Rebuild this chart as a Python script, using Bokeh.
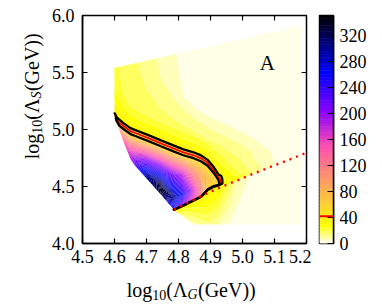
import numpy as np
from bokeh.plotting import figure
from bokeh.models import FixedTicker, PrintfTickFormatter, Label, Span
from bokeh.layouts import row, column
from bokeh.embed import file_html
from bokeh.resources import INLINE

# ---------------- data ----------------
# field sampled on vertical columns (x) with knots (y, value) from the lower
# boundary of the scanned region up to its upper boundary
col_x = [4.600, 4.606, 4.615, 4.630, 4.650, 4.665, 4.700, 4.745, 4.786, 4.815, 4.847, 4.870,
         4.890, 4.910, 4.925, 4.940, 4.960, 4.990, 5.030, 5.070, 5.110, 5.150, 5.184]
col_y = [
    [5.140, 5.142, 5.144, 5.146, 5.148, 5.150, 5.152, 5.154, 5.360, 5.450, 5.480, 5.500, 5.520, 5.540],
    [5.070, 5.071, 5.072, 5.074, 5.076, 5.078, 5.095, 5.112, 5.330, 5.500, 5.515, 5.525, 5.535, 5.544],
    [5.000, 5.002, 5.004, 5.012, 5.024, 5.034, 5.060, 5.086, 5.270, 5.500, 5.515, 5.525, 5.540, 5.550],
    [4.880, 4.882, 4.884, 4.930, 4.970, 5.000, 5.026, 5.052, 5.190, 5.300, 5.450, 5.500, 5.530, 5.559],
    [4.740, 4.742, 4.744, 4.800, 4.880, 4.960, 4.986, 5.012, 5.120, 5.200, 5.450, 5.500, 5.540, 5.572],
    [4.680, 4.682, 4.684, 4.740, 4.830, 4.943, 4.969, 4.995, 5.100, 5.176, 5.450, 5.500, 5.540, 5.581],
    [4.570, 4.572, 4.574, 4.620, 4.750, 4.905, 4.931, 4.957, 5.050, 5.120, 5.350, 5.450, 5.530, 5.604],
    [4.430, 4.432, 4.434, 4.500, 4.680, 4.853, 4.879, 4.905, 5.000, 5.060, 5.180, 5.450, 5.550, 5.632],
    [4.296, 4.2965, 4.297, 4.400, 4.600, 4.806, 4.832, 4.858, 4.950, 5.010, 5.090, 5.270, 5.600, 5.659],
    [4.235, 4.332, 4.338, 4.430, 4.620, 4.774, 4.800, 4.826, 4.917, 4.977, 5.040, 5.180, 5.290, 5.677],
    [4.167, 4.377, 4.385, 4.470, 4.620, 4.748, 4.774, 4.800, 4.880, 4.940, 4.990, 5.100, 5.200, 5.698],
    [4.167, 4.409, 4.417, 4.470, 4.620, 4.721, 4.747, 4.773, 4.850, 4.910, 4.950, 5.060, 5.150, 5.712],
    [4.167, 4.437, 4.467, 4.477, 4.580, 4.684, 4.710, 4.736, 4.820, 4.880, 4.920, 5.020, 5.120, 5.725],
    [4.167, 4.463, 4.497, 4.507, 4.560, 4.619, 4.645, 4.671, 4.760, 4.830, 4.890, 4.990, 5.090, 5.738],
    [4.167, 4.481, 4.508, 4.515, 4.530, 4.555, 4.580, 4.606, 4.720, 4.800, 4.870, 4.970, 5.070, 5.747],
    [4.167, 4.499, 4.507, 4.530, 4.550, 4.570, 4.600, 4.630, 4.670, 4.760, 4.850, 4.950, 5.060, 5.757],
    [4.167, 4.523, 4.531, 4.550, 4.565, 4.580, 4.595, 4.610, 4.630, 4.700, 4.800, 4.920, 5.030, 5.770],
    [4.167, 4.557, 4.565, 4.572, 4.579, 4.586, 4.593, 4.600, 4.607, 4.620, 4.750, 4.880, 4.990, 5.789],
    [4.167, 4.603, 4.611, 4.620, 4.630, 4.640, 4.650, 4.660, 4.670, 4.690, 4.720, 4.800, 4.935, 5.814],
    [4.167, 4.648, 4.656, 4.670, 4.685, 4.700, 4.715, 4.730, 4.745, 4.760, 4.775, 4.800, 4.840, 5.840],
    [4.167, 4.692, 4.700, 4.720, 4.740, 4.760, 4.780, 4.800, 4.820, 4.840, 4.860, 4.880, 4.900, 5.865],
    [4.167, 4.736, 4.744, 4.760, 4.780, 4.800, 4.820, 4.840, 4.860, 4.880, 4.900, 4.920, 4.940, 5.891],
    [4.167, 4.773, 4.781, 4.800, 4.820, 4.840, 4.860, 4.880, 4.900, 4.920, 4.940, 4.960, 4.980, 5.913],
]
col_z = [
    [34, 33.9, 33.8, 33.7, 33.6, 33.5, 33.4, 33.3, 25, 23, 22.8, 22.6, 22.3, 22],
    [62, 62, 62, 58, 54, 50, 42, 35, 25, 21.8, 21.7, 21.6, 21.55, 21.5],
    [105, 105, 105, 90, 70, 50, 42, 35, 25, 20, 19.8, 19.7, 19.6, 19.5],
    [140, 140, 140, 118, 88, 50, 42, 35, 25, 20, 19.2, 19, 18.7, 18.5],
    [185, 185, 185, 165, 112, 50, 42, 35, 25, 20, 18, 17.6, 17.3, 17],
    [225, 225, 225, 200, 135, 50, 42, 35, 25, 20, 17, 16.6, 16.3, 16],
    [295, 295, 295, 282, 185, 50, 42, 35, 25, 20, 15, 14, 13, 12.5],
    [330, 330, 330, 338, 200, 50, 42, 35, 25, 20, 15, 10, 9.5, 9],
    [30, 30, 235, 300, 210, 50, 42, 35, 25, 20, 15, 10, 6, 5.5],
    [12, 30, 205, 250, 165, 50, 42, 35, 25, 20, 15, 10, 5, 3.5],
    [8, 32, 155, 170, 110, 50, 42, 35, 25, 20, 15, 10, 5, 2],
    [12, 33, 112, 118, 82, 50, 42, 35, 25, 20, 15, 10, 5, 2],
    [14, 33, 34, 62, 74, 50, 42, 35, 25, 20, 15, 10, 5, 1.5],
    [12, 32, 33.5, 58, 62, 50, 42, 35, 25, 20, 15, 10, 5, 1.5],
    [10, 30, 33, 52, 53, 50, 42, 35, 25, 20, 15, 10, 5, 1.5],
    [6, 25, 32, 31.5, 31, 30.5, 30, 28, 25, 20, 15, 10, 5, 1.2],
    [4, 18, 31, 30, 29, 28, 27, 26, 25, 20, 15, 10, 5, 1],
    [2, 8, 27, 26, 25, 24, 23, 22, 21, 20, 15, 10, 5, 1],
    [1.5, 4, 15.5, 15, 14.5, 14, 13.5, 13, 12.5, 12, 11, 10, 5, 1],
    [1.5, 2.5, 9, 8.7, 8.4, 8.1, 7.8, 7.5, 7.2, 6.9, 6.6, 6.2, 5, 1],
    [1.2, 1.5, 3.5, 3.4, 3.3, 3.2, 3.1, 3.0, 2.9, 2.8, 2.7, 2.6, 2.5, 1],
    [1, 1.2, 2.5, 2.4, 2.3, 2.2, 2.1, 2.0, 1.9, 1.8, 1.7, 1.6, 1.5, 1],
    [1, 1.1, 2, 1.9, 1.8, 1.7, 1.6, 1.5, 1.4, 1.3, 1.2, 1.1, 1.05, 1],
]

fill_levels = list(range(0, 355, 5))       # 0 ... 350
black_levels = [35, 50]
red_level = 42

dot_x = [4.786, 4.85, 4.90, 4.95, 5.05, 5.20]   # red dotted line
dot_y = [4.296, 4.385, 4.455, 4.515, 4.63, 4.795]

X0, X1 = 4.5, 5.2
Y0, Y1 = 4.0, 6.0
x_ticks = [4.5, 4.6, 4.7, 4.8, 4.9, 5.0, 5.1, 5.2]
y_ticks = [4.0, 4.5, 5.0, 5.5, 6.0]
cb_ticks = [0, 40, 80, 120, 160, 200, 240, 280, 320]
VMIN, VMAX = 0, 350

# ---------------- colormap (reversed gnuplot2) ----------------
def gnuplot2_r(v):
    t = 1 - (v - VMIN) / (VMAX - VMIN)
    r = min(max(t / 0.32 - 0.78125, 0), 1)
    g = min(max(2 * t - 0.84, 0), 1)
    if t < 0.25:
        b = 4 * t
    elif t < 0.92:
        b = -2 * t + 1.84
    else:
        b = t / 0.08 - 11.5
    b = min(max(b, 0), 1)
    return "#%02x%02x%02x" % (round(r * 255), round(g * 255), round(b * 255))

palette = [gnuplot2_r(0.5 * (a + b)) for a, b in zip(fill_levels[:-1], fill_levels[1:])]

nrow = len(col_y[0])
X2 = np.tile(np.array(col_x, dtype=float), (nrow, 1))
Y2 = np.array(col_y, dtype=float).T
Z2 = np.array(col_z, dtype=float).T

FONT = "Liberation Serif"
FW, FH = 230, 228          # frame size in px
TICK = 5                   # inward tick length in px
ROW_H = 278

# ---------------- main figure ----------------
p = figure(width=263, height=ROW_H, x_range=(X0, X1), y_range=(Y0, Y1),
           min_border_left=28, min_border_right=5, min_border_top=15, min_border_bottom=35,
           output_backend="svg", toolbar_location=None)
p.xgrid.visible = False
p.ygrid.visible = False
p.background_fill_color = "white"
p.border_fill_color = "white"
p.outline_line_color = "black"
p.outline_line_width = 1.5

cf = p.contour(X2, Y2, Z2, levels=fill_levels, fill_color=palette, line_color=None)
cf.fill_renderer.glyph.line_color = cf.fill_renderer.glyph.fill_color
cf.fill_renderer.glyph.line_width = 0.6

p.contour(X2, Y2, Z2, levels=[red_level], line_color="red", line_width=1.8, fill_color=None)
p.contour(X2, Y2, Z2, levels=black_levels, line_color="black", line_width=2.3, fill_color=None)

p.line(dot_x, dot_y, line_color="red", line_width=2.4, line_dash="2 5")

# inward ticks on the top and right edges of the frame
dy = TICK * (Y1 - Y0) / FH
dx = TICK * (X1 - X0) / FW
p.segment(x0=x_ticks, y0=[Y1] * len(x_ticks), x1=x_ticks, y1=[Y1 - dy] * len(x_ticks),
          line_color="black", line_width=1.2)
p.segment(x0=[X1] * len(y_ticks), y0=y_ticks, x1=[X1 - dx] * len(y_ticks), y1=y_ticks,
          line_color="black", line_width=1.2)

for ax, ticks in ((p.xaxis[0], x_ticks), (p.yaxis[0], y_ticks)):
    ax.ticker = FixedTicker(ticks=ticks)
    ax.formatter = PrintfTickFormatter(format="%.1f")
    ax.major_tick_in = TICK
    ax.major_tick_out = 0
    ax.minor_tick_line_color = None
    ax.axis_line_width = 1.5
    ax.major_tick_line_width = 1.2
    ax.major_label_text_font = FONT
    ax.major_label_text_font_size = "18px"
    ax.major_label_text_color = "black"
p.xaxis[0].major_label_standoff = 6
p.yaxis[0].major_label_standoff = 8

p.add_layout(Label(x=5.0539, y=5.5877, text="A", text_font=FONT, text_font_size="21px",
                   text_align="left", text_baseline="alphabetic", text_color="black"))

# ---------------- axis-title strips (text only) ----------------
def strip(width, height):
    f = figure(width=width, height=height, x_range=(0, 1), y_range=(0, 1),
               min_border=0, x_axis_location=None, y_axis_location=None,
               output_backend="svg", toolbar_location=None)
    f.xgrid.visible = False
    f.ygrid.visible = False
    f.outline_line_color = None
    f.background_fill_color = None
    f.border_fill_color = None
    return f

def lab(fig, x, y, text, size, italic=False, angle=0.0):
    fig.add_layout(Label(x=x, y=y, x_units="screen", y_units="screen", text=text,
                         text_font=FONT, text_font_size=size,
                         text_font_style="italic" if italic else "normal",
                         text_align="left", text_baseline="alphabetic",
                         angle=angle, text_color="black"))

ylab = strip(48, ROW_H)
A90 = np.pi / 2
lab(ylab, 31, 84.2, "log", "20px", angle=A90)
lab(ylab, 36, 109.8, "10", "14px", angle=A90)
lab(ylab, 31, 123.8, "(Λ", "20px", angle=A90)
lab(ylab, 36, 144.9, "S", "14px", italic=True, angle=A90)
lab(ylab, 31, 152.4, "(GeV))", "20px", angle=A90)

xlab = strip(311, 28)
lab(xlab, 126.2, 17, "log", "20px")
lab(xlab, 151.8, 12, "10", "14px")
lab(xlab, 165.8, 17, "(Λ", "20px")
lab(xlab, 186.9, 12, "G", "14px", italic=True)
lab(xlab, 197.5, 17, "(GeV))", "20px")

# ---------------- colour bar ----------------
cb = figure(width=62, height=ROW_H, x_range=(0, 1), y_range=(VMIN, VMAX),
            min_border_left=8, min_border_right=40, min_border_top=15, min_border_bottom=35,
            x_axis_location=None, y_axis_location="right",
            output_backend="svg", toolbar_location=None)
cb.xgrid.visible = False
cb.ygrid.visible = False
cb.outline_line_color = "black"
cb.outline_line_width = 1.5
cb.quad(left=0, right=1, bottom=fill_levels[:-1], top=fill_levels[1:],
        fill_color=palette, line_color=palette, line_width=0.6)
cb.add_layout(Span(location=red_level, dimension="width", line_color="red", line_width=2))
ya = cb.yaxis[0]
ya.ticker = FixedTicker(ticks=cb_ticks)
ya.major_tick_in = 6
ya.major_tick_out = 0
ya.minor_tick_line_color = None
ya.axis_line_width = 1.5
ya.major_tick_line_width = 1.2
ya.major_label_standoff = 6
ya.major_label_text_font = FONT
ya.major_label_text_font_size = "18px"
ya.major_label_text_color = "black"

layout = column(row(ylab, p, cb), xlab)
open("out.html", "w").write(file_html(layout, INLINE))
